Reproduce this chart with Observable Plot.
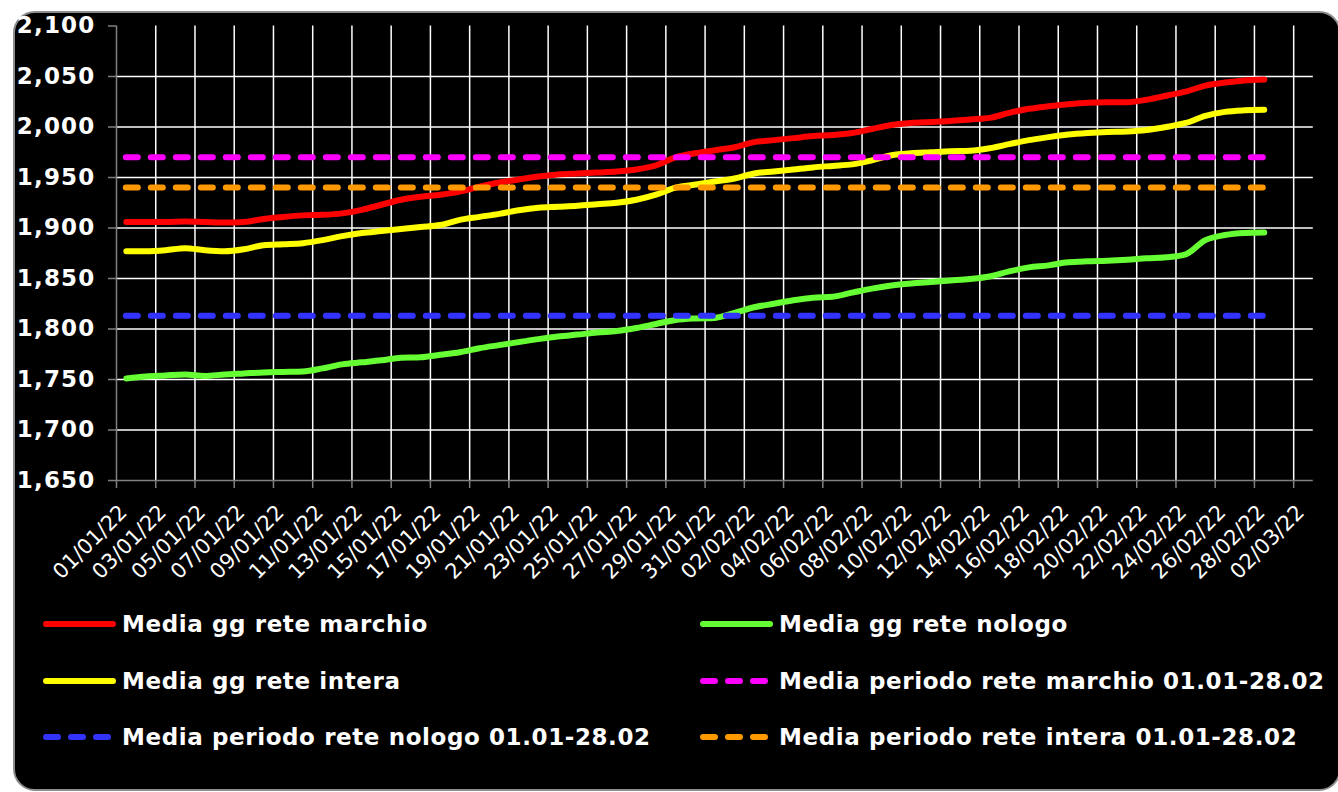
<!DOCTYPE html>
<html>
<head>
<meta charset="utf-8">
<script src="https://cdn.jsdelivr.net/npm/d3@7"></script>
<script src="https://cdn.jsdelivr.net/npm/@observablehq/plot@0.6"></script>
<style>
  html, body { margin: 0; padding: 0; background: #fff; width: 1338px; height: 792px; overflow: hidden; font-family: "DejaVu Sans", Verdana, sans-serif; }
  #panel { position: absolute; left: 13px; top: 11px; width: 1328px; height: 780px; box-sizing: border-box; background: #000; border: 2px solid #8c8c8c; border-radius: 22px; }
  #chart { position: absolute; left: 0; top: 0; }
  #chart g[aria-label="y-axis tick label"] text { letter-spacing: 1.2px; }
  #chart g[aria-label="xlabels"] text { letter-spacing: 2px; }
  #legend { position: absolute; left: 43px; top: 609px; display: grid; grid-template-columns: 657px 600px; grid-auto-rows: 56.5px; }
  .item { display: flex; align-items: center; height: 30px; }
  .item svg { flex: none; margin-right: 6px; }
  .item span { color: #fff; font-weight: bold; font-size: 23px; letter-spacing: 0.6px; white-space: nowrap; line-height: 30px; }
</style>
</head>
<body>
<div id="panel"></div>
<div id="chart"></div>
<div id="legend"></div>
<script>
// ---- Data ----
const startDay = "01/01/22";
const dayCount = 59; // 01/01/22 .. 28/02/22

const marchio = [1906,1906,1906,1906.5,1906,1905.5,1906,1909,1911,1912.5,
  1913,1914.5,1918,1923,1928,1931,1933,1936,1941,1945,
  1948,1951,1953,1954,1955,1956,1958,1962,1970,1974,
  1977,1980,1985,1987,1989,1991,1992,1994,1998,2002,
  2004,2005,2006,2007.5,2009,2014,2018,2020.5,2022.5,2024,
  2024.5,2024.5,2027,2031,2035,2041,2044,2046,2047];

const intera = [1877,1877,1878,1880,1878,1877,1879,1883,1884,1885,
  1888,1892,1895,1897,1899,1901,1903,1908,1911,1914,
  1917.5,1920,1921,1922,1923.5,1925,1928,1933,1940,1943,
  1946,1949,1954,1956,1958,1960,1961.5,1963,1967,1972,
  1974,1975,1976,1976.5,1979,1983,1987,1990,1992.5,1994,
  1995,1995.5,1997,2000,2004,2011,2015,2016.5,2017];

const nologo = [1751,1753,1754,1755,1753.5,1755,1756,1757,1757.5,1758,
  1761,1765,1767,1769,1771.5,1772,1774.5,1777,1781,1784,
  1787,1790,1792.5,1794.5,1796.5,1798,1801,1805,1809,1810.5,
  1811,1816,1821.5,1825,1828.5,1831,1832,1836,1840,1843,
  1845,1846.5,1848,1849.5,1852,1857,1861,1863,1866,1867,
  1867.5,1868.5,1870,1871,1874,1888,1893,1895,1895.5];

const avgMarchio = 1970;
const avgIntera = 1940;
const avgNologo = 1813;

const xLabels = ["01/01/22","03/01/22","05/01/22","07/01/22","09/01/22","11/01/22","13/01/22","15/01/22",
  "17/01/22","19/01/22","21/01/22","23/01/22","25/01/22","27/01/22","29/01/22","31/01/22",
  "02/02/22","04/02/22","06/02/22","08/02/22","10/02/22","12/02/22","14/02/22","16/02/22",
  "18/02/22","20/02/22","22/02/22","24/02/22","26/02/22","28/02/22","02/03/22"];
const yTicks = [1650,1700,1750,1800,1850,1900,1950,2000,2050,2100];
const yGrid = [1700,1750,1800,1850,1900,1950,2000,2050];

const seriesNames = ["Media gg rete marchio","Media gg rete nologo","Media gg rete intera",
  "Media periodo rete marchio 01.01-28.02","Media periodo rete nologo 01.01-28.02","Media periodo rete intera 01.01-28.02"];
const seriesColors = ["#ff0000","#66ff33","#ffff00","#ff00ff","#3333ff","#ff9900"];
const seriesDashed = [false,false,false,true,true,true];

// ---- Derived tables ----
const parse = d3.utcParse("%d/%m/%y");
const noon = d => d3.utcHour.offset(d, 12);
const first = parse(startDay);
const dates = d3.utcDay.range(first, d3.utcDay.offset(first, dayCount)).map(noon);
const table = dates.map((date, i) => ({date, marchio: marchio[i], intera: intera[i], nologo: nologo[i]}));
const gridDates = xLabels.map(parse);
const domainEnd = d3.utcDay.offset(gridDates[gridDates.length - 1], 1);
const grey = "#808080";
const dash = "12,13";

const chart = Plot.plot({
  width: 1338,
  height: 600,
  marginLeft: 116,
  marginRight: 25.2,
  marginTop: 25.5,
  marginBottom: 120,
  style: {background: "transparent", color: "white", overflow: "visible", fontFamily: "DejaVu Sans, Verdana, sans-serif"},
  x: {type: "utc", domain: [first, domainEnd], axis: null},
  y: {domain: [1650, 2100], axis: null},
  marks: [
    Plot.gridY(yGrid, {stroke: "white", strokeOpacity: 1, strokeWidth: 1.5}),
    Plot.gridX(gridDates.slice(1), {stroke: "white", strokeOpacity: 1, strokeWidth: 1.5}),
    Plot.ruleX([first], {stroke: grey, strokeWidth: 1.5}),
    Plot.ruleY([1650], {stroke: grey, strokeWidth: 1.5}),
    Plot.axisY({ticks: yTicks, tickSize: 8, tickFormat: () => "", stroke: grey, strokeWidth: 1.5}),
    Plot.axisY({ticks: yTicks, tickSize: 0, tickPadding: 21, tickFormat: d3.format(","), fill: "white", fontSize: 23, fontWeight: "bold"}),
    Plot.axisX({ticks: gridDates, tickSize: 8, tickFormat: () => "", stroke: grey, strokeWidth: 1.5}),
    Plot.text(xLabels, {x: s => noon(parse(s)), text: s => s, frameAnchor: "bottom", rotate: -45, textAnchor: "end", lineAnchor: "bottom", dy: 33, dx: 2, fill: "white", fontSize: 21, ariaLabel: "xlabels"}),
    Plot.line(table, {x: "date", y: "marchio", stroke: seriesColors[0], strokeWidth: 6, strokeLinecap: "round", strokeLinejoin: "round", curve: "monotone-x"}),
    Plot.line(table, {x: "date", y: "nologo", stroke: seriesColors[1], strokeWidth: 6, strokeLinecap: "round", strokeLinejoin: "round", curve: "monotone-x"}),
    Plot.line(table, {x: "date", y: "intera", stroke: seriesColors[2], strokeWidth: 6, strokeLinecap: "round", strokeLinejoin: "round", curve: "monotone-x"}),
    Plot.ruleY([avgMarchio], {x1: () => dates[0], x2: () => dates[dates.length - 1], stroke: seriesColors[3], strokeWidth: 6, strokeDasharray: dash, strokeLinecap: "round"}),
    Plot.ruleY([avgNologo], {x1: () => dates[0], x2: () => dates[dates.length - 1], stroke: seriesColors[4], strokeWidth: 6, strokeDasharray: dash, strokeLinecap: "round"}),
    Plot.ruleY([avgIntera], {x1: () => dates[0], x2: () => dates[dates.length - 1], stroke: seriesColors[5], strokeWidth: 6, strokeDasharray: dash, strokeLinecap: "round"})
  ]
});
document.getElementById("chart").appendChild(chart);

// ---- Legend ----
const legend = document.getElementById("legend");
seriesNames.forEach((name, i) => {
  const item = document.createElement("div");
  item.className = "item";
  const svgNS = "http://www.w3.org/2000/svg";
  const sw = document.createElementNS(svgNS, "svg");
  sw.setAttribute("width", "73");
  sw.setAttribute("height", "12");
  const ln = document.createElementNS(svgNS, "line");
  ln.setAttribute("x1", "3"); ln.setAttribute("x2", "70");
  ln.setAttribute("y1", "6"); ln.setAttribute("y2", "6");
  ln.setAttribute("stroke", seriesColors[i]);
  ln.setAttribute("stroke-width", "6");
  ln.setAttribute("stroke-linecap", "round");
  if (seriesDashed[i]) ln.setAttribute("stroke-dasharray", dash);
  sw.appendChild(ln);
  const sp = document.createElement("span");
  sp.textContent = name;
  item.appendChild(sw);
  item.appendChild(sp);
  legend.appendChild(item);
});
</script>
</body>
</html>
